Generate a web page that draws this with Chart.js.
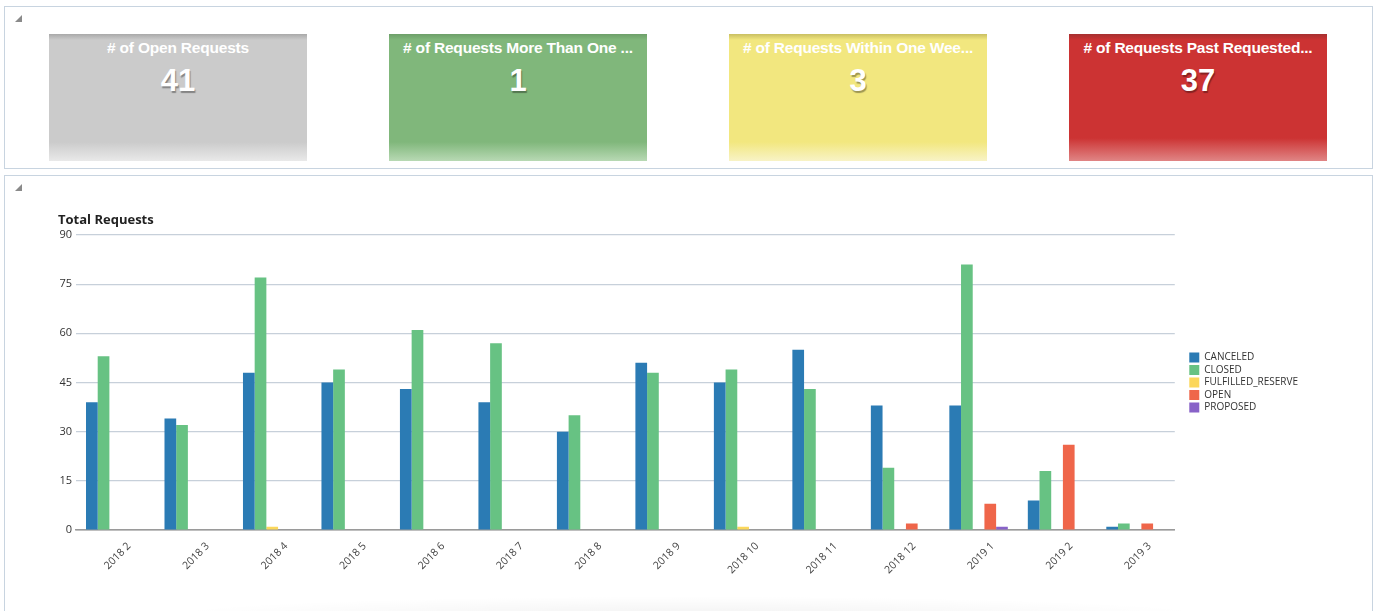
<!DOCTYPE html>
<html>
<head>
<meta charset="utf-8">
<title>Requests Dashboard</title>
<script src="https://cdn.jsdelivr.net/npm/chart.js"></script>
<style>
    html, body {
        margin: 0;
        padding: 0;
        background: #fff;
        width: 1379px;
        height: 611px;
        overflow: hidden;
        font-family: "Liberation Sans", Arial, sans-serif;
    }
    .panel {
        position: absolute;
        left: 4px;
        width: 1369px;
        box-sizing: border-box;
        border: 1px solid #c8d4e0;
        background: #fff;
    }
    .panel-top { top: 6px; height: 163px; }
    .panel-chart { top: 175px; height: 450px; }
    .collapse {
        position: absolute;
        left: 10px;
        top: 8px;
        width: 0;
        height: 0;
        border-left: 7px solid transparent;
        border-bottom: 7px solid #8a8a8a;
    }
    .tile {
        position: absolute;
        top: 27px;
        width: 258px;
        height: 127px;
        color: #fff;
        text-align: center;
    }
    .tile .label {
        margin-top: 4px;
        font-weight: bold;
        font-size: 15.5px;
        line-height: 20px;
        white-space: nowrap;
        letter-spacing: -0.2px;
    }
    .tile .value {
        margin-top: 6px;
        font-weight: bold;
        font-size: 31px;
        line-height: 34px;
        text-shadow: 1px 2px 1px rgba(0, 0, 0, 0.35);
    }
    .tile-gray   { left: 44px;   background: linear-gradient(#a9a9a9 0px, #cbcbcb 6px, #cbcbcb 108px, #e9e9e9 127px); }
    .tile-green  { left: 384px;  background: linear-gradient(#6d9f69 0px, #80b77b 6px, #80b77b 108px, #b8d9b4 127px); }
    .tile-yellow { left: 724px;  background: linear-gradient(#c9bf62 0px, #f2e77f 6px, #f2e77f 108px, #f8f3c6 127px); }
    .tile-red    { left: 1064px; background: linear-gradient(#a63030 0px, #cc3333 6px, #cc3333 104px, #e08585 127px); }
    #chartBox {
        position: absolute;
        left: 58px;
        top: 210px;
        width: 1265px;
        height: 370px;
    }
    .floor-shadow {
        position: absolute;
        left: 150px;
        top: 596px;
        width: 1080px;
        height: 20px;
        background: radial-gradient(ellipse at 50% 100%, rgba(0,0,0,0.05), rgba(0,0,0,0) 70%);
    }
</style>
</head>
<body>
<div class="panel panel-top">
    <div class="collapse"></div>
    <div class="tile tile-gray"><div class="label"># of Open Requests</div><div class="value">41</div></div>
    <div class="tile tile-green"><div class="label"># of Requests More Than One ...</div><div class="value">1</div></div>
    <div class="tile tile-yellow"><div class="label"># of Requests Within One Wee...</div><div class="value">3</div></div>
    <div class="tile tile-red"><div class="label"># of Requests Past Requested...</div><div class="value">37</div></div>
</div>
<div class="panel panel-chart">
    <div class="collapse"></div>
</div>
<div class="floor-shadow"></div>
<div id="chartBox"><canvas id="requestsChart"></canvas></div>

<script>
// Monthly request counts by status
const months = ['2018 2', '2018 3', '2018 4', '2018 5', '2018 6', '2018 7', '2018 8',
                '2018 9', '2018 10', '2018 11', '2018 12', '2019 1', '2019 2', '2019 3'];
const canceled  = [39, 34, 48, 45, 43, 39, 30, 51, 45, 55, 38, 38, 9, 1];
const closed    = [53, 32, 77, 49, 61, 57, 35, 48, 49, 43, 19, 81, 18, 2];
const fulfilled = [0, 0, 1, 0, 0, 0, 0, 0, 1, 0, 0, 0, 0, 0];
const open      = [0, 0, 0, 0, 0, 0, 0, 0, 0, 0, 2, 8, 26, 2];
const proposed  = [0, 0, 0, 0, 0, 0, 0, 0, 0, 0, 0, 1, 0, 0];
const yTicks    = [0, 15, 30, 45, 60, 75, 90];

let requestsChart;

// nudge the right-hand legend a little away from the plot
const legendGap = {
    id: 'legendGap',
    afterLayout(chart) {
        const legend = chart.legend;
        if (legend) {
            legend.left += 12;
            legend.right += 12;
        }
    }
};

document.addEventListener('DOMContentLoaded', function() {
    const ctx = document.getElementById('requestsChart').getContext('2d');

    requestsChart = new Chart(ctx, {
        type: 'bar',
        data: {
            labels: months,
            datasets: [{
                label: 'CANCELED',
                data: canceled,
                backgroundColor: '#2b7bb4'
            }, {
                label: 'CLOSED',
                data: closed,
                backgroundColor: '#67c283'
            }, {
                label: 'FULFILLED_RESERVE',
                data: fulfilled,
                backgroundColor: '#fbd75b'
            }, {
                label: 'OPEN',
                data: open,
                backgroundColor: '#ef664a'
            }, {
                label: 'PROPOSED',
                data: proposed,
                backgroundColor: '#8862c8'
            }]
        },
        options: {
            responsive: true,
            maintainAspectRatio: false,
            animation: false,
            categoryPercentage: 0.745,
            barPercentage: 1.0,
            layout: {
                padding: { left: 0, right: 27, top: 0, bottom: 0 }
            },
            plugins: {
                title: {
                    display: true,
                    text: 'Total Requests',
                    align: 'start',
                    color: '#222',
                    font: { family: 'Open Sans', size: 13, weight: 'bold' },
                    padding: { top: 2, bottom: 7.4 }
                },
                legend: {
                    position: 'right',
                    fullSize: false,
                    labels: {
                        boxWidth: 10,
                        boxHeight: 10,
                        padding: 2.5,
                        color: '#333',
                        font: { family: 'Open Sans', size: 10 }
                    }
                },
                tooltip: { enabled: false }
            },
            scales: {
                x: {
                    grid: { display: false },
                    border: { color: '#9a9a9a', width: 1.5 },
                    ticks: {
                        color: '#444',
                        font: { family: 'Open Sans', size: 10.5 },
                        maxRotation: 45,
                        minRotation: 45,
                        labelOffset: 14,
                        padding: 2
                    },
                    afterFit: function(scale) {
                        scale.height = 50;
                    }
                },
                y: {
                    min: 0,
                    max: 90,
                    afterBuildTicks: function(scale) {
                        scale.ticks = yTicks.map(v => ({ value: v }));
                    },
                    grid: {
                        drawTicks: false,
                        color: c => (c.tick && c.tick.value === 0) ? '#9a9a9a' : '#c7d0da',
                        lineWidth: 1.2
                    },
                    border: { display: false },
                    ticks: {
                        color: '#333',
                        font: { family: 'Open Sans', size: 11 },
                        padding: 4
                    },
                    afterFit: function(scale) {
                        scale.width = 18;
                    }
                }
            }
        },
        plugins: [legendGap]
    });
});
</script>
</body>
</html>
